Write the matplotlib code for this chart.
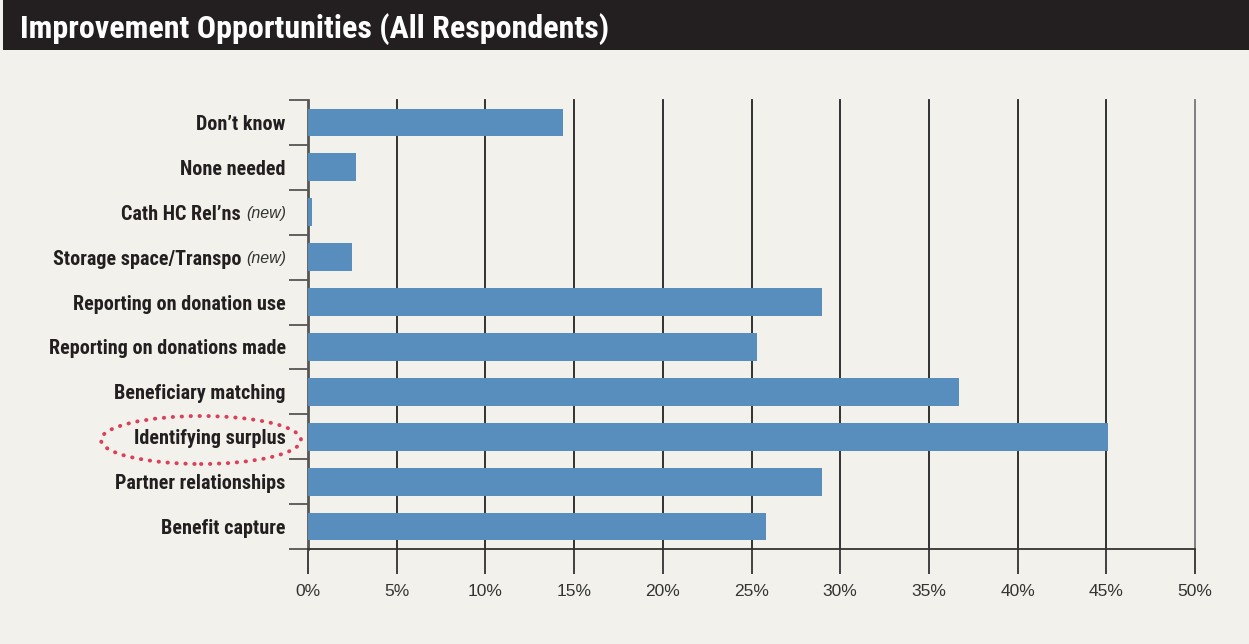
import matplotlib.pyplot as plt
from matplotlib.patches import Ellipse, Rectangle

categories = ['Don\u2019t know', 'None needed', 'Cath HC Rel\u2019ns', 'Storage space/Transpo',
              'Reporting on donation use', 'Reporting on donations made',
              'Beneficiary matching', 'Identifying surplus', 'Partner relationships',
              'Benefit capture']
is_new = [False, False, True, True, False, False, False, False, False, False]
values = [14.4, 2.7, 0.2, 2.5, 29.0, 25.3, 36.7, 45.1, 29.0, 25.8]
x_ticks = [0, 5, 10, 15, 20, 25, 30, 35, 40, 45, 50]
x_labels = [f'{t}%' for t in x_ticks]

bg = '#f2f1eb'
bar_color = '#578ebe'
narrow = ['Roboto Condensed', 'Archivo Narrow', 'Sofia Sans Condensed', 'DejaVu Sans']
regular = ['Liberation Sans', 'DejaVu Sans']

fig = plt.figure(figsize=(12.49, 6.44), dpi=100, facecolor=bg)

# title bar
fig.add_artist(Rectangle((3 / 1249, 1 - 50 / 644), 1, 50 / 644, transform=fig.transFigure,
                         facecolor='#231f20', edgecolor='none'))
fig.text(20 / 1249, 1 - 29 / 644, 'Improvement Opportunities (All Respondents)',
         color='white', fontsize=23, fontweight='bold', family=narrow,
         ha='left', va='center')

ax = fig.add_axes([308 / 1249, 95 / 644, 887 / 1249, 449 / 644])
ax.set_facecolor(bg)

n = len(categories)
ypos = list(range(n))
ax.barh(ypos, values, height=0.62, color=bar_color, zorder=3)
ax.set_ylim(n - 0.5, -0.5)
ax.set_xlim(0, 50)

# grid lines
for t in x_ticks[1:]:
    ax.axvline(t, color='#777777' if t == 50 else '#222222', lw=1.3, zorder=1,
               clip_on=False)

ax.set_xticks(x_ticks)
ax.set_xticklabels(x_labels, fontsize=12.5, color='#333333', family=regular)
ax.tick_params(axis='x', length=18, width=1.3, color='#333333', pad=7)
ax.set_yticks([i - 0.5 for i in range(n + 1)])
ax.set_yticklabels([])
ax.tick_params(axis='y', length=14, width=1.3, color='#555555')

for s in ['top', 'right']:
    ax.spines[s].set_visible(False)
ax.spines['left'].set_color('#555555')
ax.spines['left'].set_linewidth(2)
ax.spines['bottom'].set_color('#333333')
ax.spines['bottom'].set_linewidth(1.3)

# category labels
for i, (cat, new) in enumerate(zip(categories, is_new)):
    if new:
        t = ax.annotate('(new)', xy=(-0.025, i), xycoords=('axes fraction', 'data'),
                        ha='right', va='center_baseline', fontsize=11.5, style='italic',
                        family=regular, color='#333333')
        ax.annotate(cat + ' ', xy=(0, 0.45), xycoords=t, ha='right', va='center',
                    fontsize=14.5, fontweight='bold', family=narrow, color='#231f20')
    else:
        ax.annotate(cat, xy=(-0.025, i), xycoords=('axes fraction', 'data'),
                    ha='right', va='center_baseline', fontsize=14.5, fontweight='bold',
                    family=narrow, color='#231f20')

# highlight ring
ell = Ellipse((201 / 1249, 1 - 440 / 644), 200 / 1249, 48 / 644,
              transform=fig.transFigure, fill=False, edgecolor='#d9405a',
              lw=2.8, linestyle=(0, (0.1, 2.2)), capstyle='round')
fig.add_artist(ell)

fig.savefig('out.png', dpi=100, facecolor=bg)
